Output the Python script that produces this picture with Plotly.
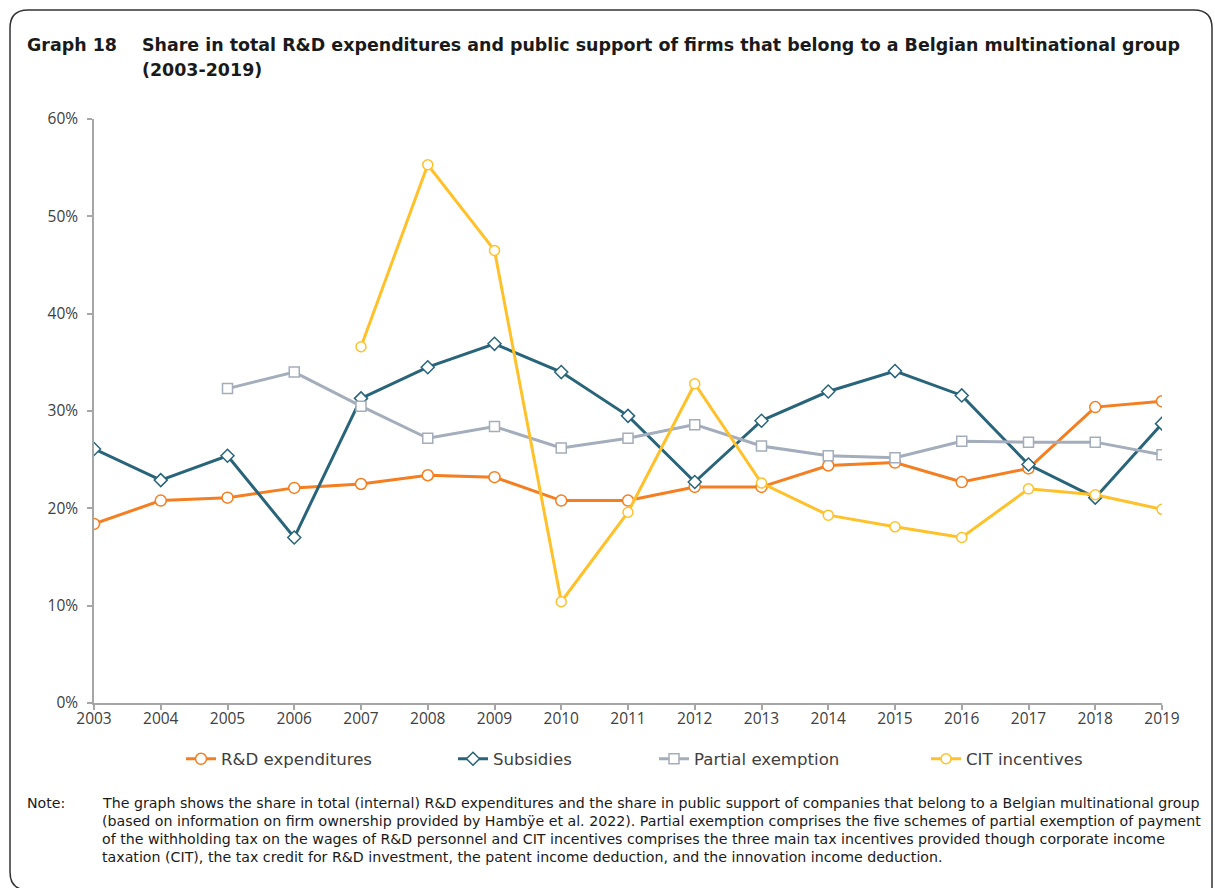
import plotly.graph_objects as go

years = list(range(2003, 2020))
rd_expenditures = [18.4, 20.8, 21.1, 22.1, 22.5, 23.4, 23.2, 20.8, 20.8, 22.2, 22.2, 24.4, 24.7, 22.7, 24.1, 30.4, 31.0]
subsidies = [26.1, 22.9, 25.4, 17.0, 31.3, 34.5, 36.9, 34.0, 29.5, 22.7, 29.0, 32.0, 34.1, 31.6, 24.5, 21.1, 28.7]
partial_exemption = [None, None, 32.3, 34.0, 30.5, 27.2, 28.4, 26.2, 27.2, 28.6, 26.4, 25.4, 25.2, 26.9, 26.8, 26.8, 25.5]
cit_incentives = [None, None, None, None, 36.6, 55.3, 46.5, 10.4, 19.6, 32.8, 22.6, 19.3, 18.1, 17.0, 22.0, 21.4, 19.9]

series_names = ["R&D expenditures", "Subsidies", "Partial exemption", "CIT incentives"]

title_label = "Graph 18"
title_lines = [
    "Share in total R&D expenditures and public support of firms that belong to a Belgian multinational group",
    "(2003-2019)",
]
note_label = "Note:"
note_lines = [
    "The graph shows the share in total (internal) R&D expenditures and the share in public support of companies that belong to a Belgian multinational group",
    "(based on information on firm ownership provided by Hambÿe et al. 2022). Partial exemption comprises the five schemes of partial exemption of payment",
    "of the withholding tax on the wages of R&D personnel and CIT incentives comprises the three main tax incentives provided though corporate income",
    "taxation (CIT), the tax credit for R&D investment, the patent income deduction, and the innovation income deduction.",
]

W, H = 1215, 888
L, R, T, B = 94, 1162, 119, 703

def px(x):
    return (x - L) / (R - L)

def py(y):
    return (B - y) / (B - T)

fig = go.Figure()

styles = [
    dict(data=rd_expenditures, color="#F47E20", symbol="circle", size=11, legend="legend", lx=181),
    dict(data=subsidies, color="#28647A", symbol="diamond", size=10, legend="legend2", lx=453),
    dict(data=partial_exemption, color="#A4ADBB", symbol="square", size=10, legend="legend3", lx=654),
    dict(data=cit_incentives, color="#FFC12A", symbol="circle", size=10, legend="legend4", lx=926),
]

for name, st in zip(series_names, styles):
    fig.add_trace(go.Scatter(
        x=years, y=st["data"], name=name, mode="lines+markers",
        line=dict(color=st["color"], width=3),
        marker=dict(symbol=st["symbol"], size=st["size"], color="white",
                    line=dict(color=st["color"], width=1.5)),
        legend=st["legend"], connectgaps=False,
    ))

legend_font = dict(family="DejaVu Sans", size=16.6, color="#404040")
leg_common = dict(orientation="h", yanchor="middle", xanchor="left", font=legend_font,
                  bgcolor="rgba(0,0,0,0)", borderwidth=0)
layout_legends = {}
for st in styles:
    layout_legends[st["legend"]] = dict(x=px(st["lx"]), y=py(759), **leg_common)

axis_font = dict(family="Open Sans", size=15.5, color="#404040")

fig.update_layout(
    width=W, height=H,
    margin=dict(l=L, r=W - R, t=T, b=H - B),
    paper_bgcolor="white", plot_bgcolor="white",
    showlegend=True,
    xaxis=dict(range=[2003, 2019], dtick=1, tick0=2003, showgrid=False, zeroline=False,
               showline=True, linecolor="#A6A6A6", linewidth=1.5,
               ticks="outside", ticklen=5, tickcolor="#A6A6A6", tickwidth=1.5,
               tickfont=axis_font, ticklabelstandoff=-4),
    yaxis=dict(range=[0, 60], dtick=10, ticksuffix="%", showgrid=False, zeroline=False,
               showline=True, linecolor="#A6A6A6", linewidth=1.5,
               ticks="outside", ticklen=5, tickcolor="#A6A6A6", tickwidth=1.5,
               tickfont=axis_font, ticklabelstandoff=6),
    **layout_legends,
)

title_font = dict(family="DejaVu Sans", size=17.45, color="#1a1a1a")
fig.add_annotation(text=f"<b>{title_label}</b>", x=px(25), y=py(45), xref="paper", yref="paper",
                   xanchor="left", yanchor="middle", showarrow=False, font=title_font, align="left")
for line, yc in zip(title_lines, [45, 70]):
    fig.add_annotation(text=f"<b>{line}</b>", x=px(140), y=py(yc), xref="paper", yref="paper",
                       xanchor="left", yanchor="middle", showarrow=False, font=title_font, align="left")

note_font = dict(family="DejaVu Sans", size=14.2, color="#1a1a1a")
fig.add_annotation(text=note_label, x=px(25), y=py(803), xref="paper", yref="paper",
                   xanchor="left", yanchor="middle", showarrow=False, font=note_font, align="left")
for line, yc in zip(note_lines, [803, 821, 839, 857]):
    fig.add_annotation(text=line, x=px(100), y=py(yc), xref="paper", yref="paper",
                       xanchor="left", yanchor="middle", showarrow=False, font=note_font, align="left")

def P(x, y):
    return f"{px(x):.5f},{py(y):.5f}"

border = (f"M {P(1212, 900)} L {P(1212, 28)} Q {P(1212, 10)} {P(1194, 10)} "
          f"L {P(28, 10)} Q {P(10, 10)} {P(10, 28)} L {P(10, 872)} Q {P(10, 890)} {P(28, 890)}")
fig.add_shape(type="path", path=border, xref="paper", yref="paper",
              line=dict(color="#333333", width=1.5), layer="above")

fig.write_html("out.html", config={"displayModeBar": False},
               post_script="document.body.style.margin='0';document.body.style.overflow='hidden';")
